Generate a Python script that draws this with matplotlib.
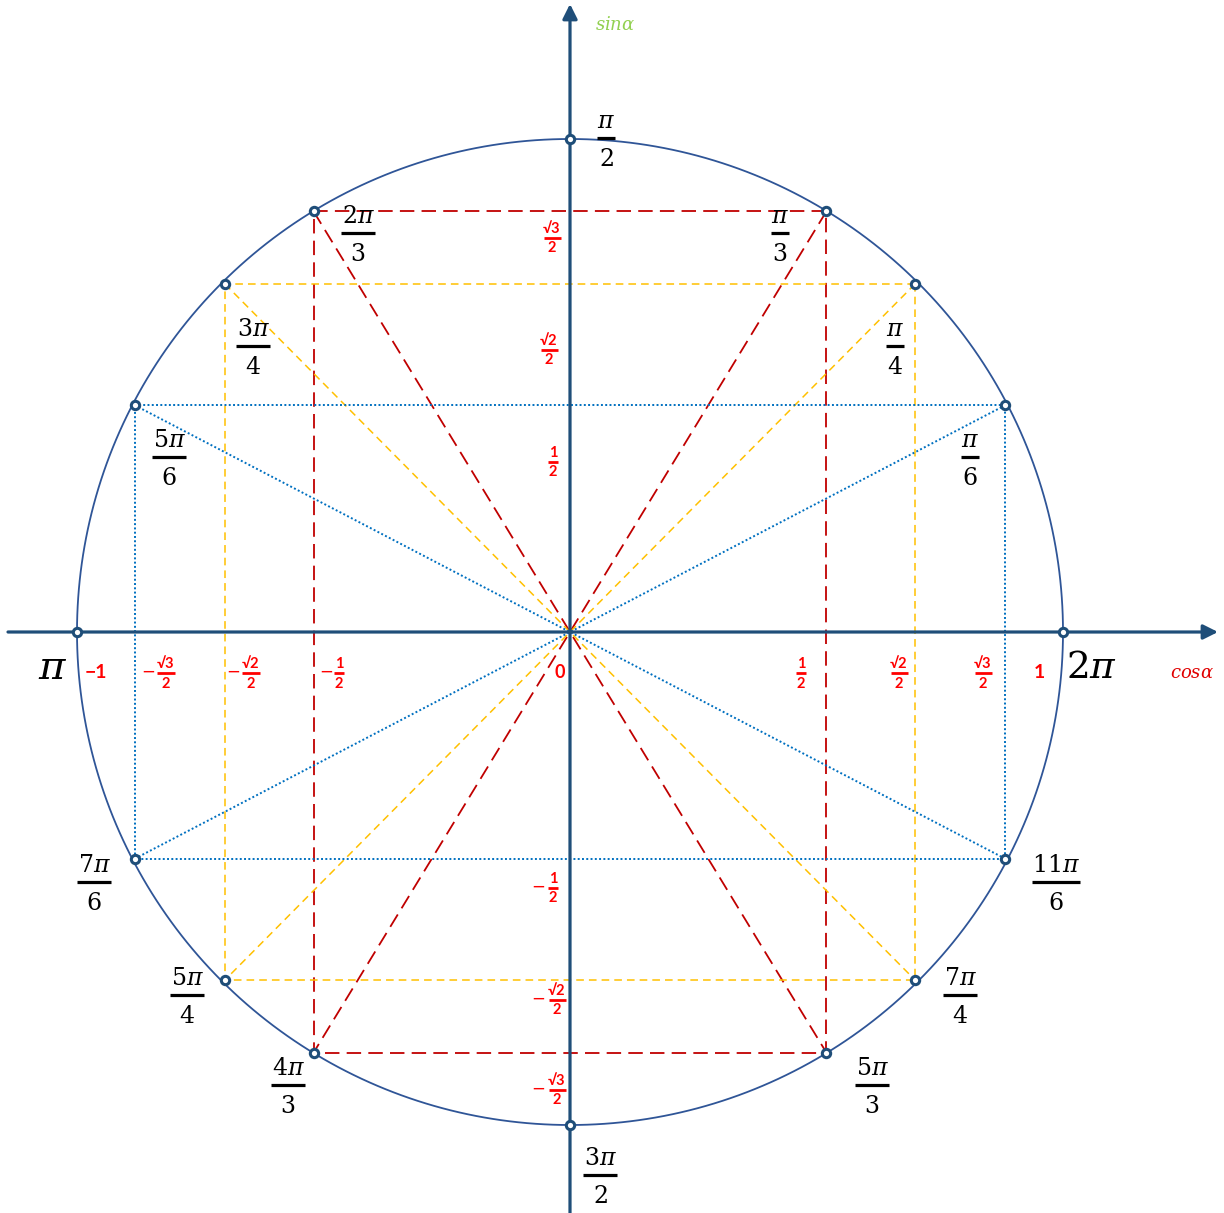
import numpy as np
import matplotlib.pyplot as plt

plt.rcParams['mathtext.fontset'] = 'dejavuserif'

# values (unit circle, radius 1)
cos_read = [0.52, 0.70, 0.883]     # "1/2", "√2/2", "√3/2" as drawn
sin_read = [0.46, 0.706, 0.853]

# points on the circle: which cos/sin value they use and the signs
pts_names = ["π/6", "π/4", "π/3", "2π/3", "3π/4", "5π/6",
             "7π/6", "5π/4", "4π/3", "5π/3", "7π/4", "11π/6"]
pts_cx = [2, 1, 0, 0, 1, 2, 2, 1, 0, 0, 1, 2]
pts_sy = [0, 1, 2, 2, 1, 0, 0, 1, 2, 2, 1, 0]
pts_sgx = [1, 1, 1, -1, -1, -1, -1, -1, -1, 1, 1, 1]
pts_sgy = [1, 1, 1, 1, 1, 1, -1, -1, -1, -1, -1, -1]
axis_pts_x = [1, 0, -1, 0]
axis_pts_y = [0, 1, 0, -1]

R = 493.0
CX, CY = 570.0, 632.0
W, H = 1224, 1213


def P(xp, yp):
    return (xp - CX) / R, (CY - yp) / R


fig = plt.figure(figsize=(W / 100, H / 100), dpi=100)
ax = fig.add_axes([0, 0, 1, 1])
ax.set_xlim(-CX / R, (W - CX) / R)
ax.set_ylim(-(H - CY) / R, CY / R)
ax.set_aspect('equal')
ax.axis('off')

circ_col = '#2F5597'
axis_col = '#1F4E79'

t = np.linspace(0, 2 * np.pi, 721)
ax.plot(np.cos(t), np.sin(t), color=circ_col, lw=1.3, zorder=3)

styles = [dict(color='#C00000', lw=1.3, ls=(0, (8, 4))),
          dict(color='#FFC000', lw=1.1, ls=(0, (5, 3.3))),
          dict(color='#0070C0', lw=1.4, ls=(0, (1, 1.2)))]

px = np.array([cos_read[i] * s for i, s in zip(pts_cx, pts_sgx)])
py = np.array([sin_read[i] * s for i, s in zip(pts_sy, pts_sgy)])

for g in range(3):
    idx = [k for k in range(12) if pts_cx[k] == g]
    q = sorted(idx, key=lambda k: (np.arctan2(py[k], px[k]) % (2 * np.pi)))
    xs = [px[k] for k in q] + [px[q[0]]]
    ys = [py[k] for k in q] + [py[q[0]]]
    ax.plot(xs, ys, zorder=2, **styles[g])
    ax.plot([px[q[0]], px[q[2]]], [py[q[0]], py[q[2]]], zorder=2, **styles[g])
    ax.plot([px[q[1]], px[q[3]]], [py[q[1]], py[q[3]]], zorder=2, **styles[g])

# axes with arrows
x0, _ = P(8, 0)
x1, _ = P(1218, 0)
_, y0 = P(0, 1213)
_, y1 = P(0, 4)
ax.annotate('', xy=(x1, 0), xytext=(x0, 0),
            arrowprops=dict(arrowstyle='-|>', lw=2.3, color=axis_col,
                            mutation_scale=22, shrinkA=0, shrinkB=0), zorder=4)
ax.annotate('', xy=(0, y1), xytext=(0, y0),
            arrowprops=dict(arrowstyle='-|>', lw=2.3, color=axis_col,
                            mutation_scale=22, shrinkA=0, shrinkB=0), zorder=4)

ax.plot(np.concatenate([px, axis_pts_x]), np.concatenate([py, axis_pts_y]),
        'o', ms=6, mfc='white', mec=axis_col, mew=2.2, zorder=5)


def frac(xp, yp, num, den, size, color, w, lw, dn, dd, **kw):
    x, y = P(xp, yp)
    ax.plot([x - w / 2 / R, x + w / 2 / R], [y, y], color=color, lw=lw,
            solid_capstyle='butt', zorder=6)
    ax.text(x, y + dn / R, num, ha='center', va='center', fontsize=size,
            color=color, zorder=6, **kw)
    ax.text(x, y - dd / R, den, ha='center', va='center', fontsize=size,
            color=color, zorder=6, **kw)


# angle labels
big = [("$\\pi$", "$2$", 606, 138, 18),
       ("$\\pi$", "$3$", 780, 233, 18),
       ("$2\\pi$", "$3$", 358, 233, 34),
       ("$\\pi$", "$4$", 895, 346, 18),
       ("$3\\pi$", "$4$", 253, 346, 34),
       ("$\\pi$", "$6$", 970, 457, 18),
       ("$5\\pi$", "$6$", 169, 457, 34),
       ("$7\\pi$", "$6$", 94, 882, 34),
       ("$11\\pi$", "$6$", 1056, 882, 48),
       ("$5\\pi$", "$4$", 187, 995, 34),
       ("$7\\pi$", "$4$", 960, 995, 34),
       ("$4\\pi$", "$3$", 288, 1085, 34),
       ("$5\\pi$", "$3$", 872, 1085, 34),
       ("$3\\pi$", "$2$", 600, 1175, 34)]
for num, den, xp, yp, w in big:
    frac(xp, yp, num, den, 17, 'black', w, 2.3, 17, 21)

ax.text(*P(53, 668), "$\\pi$", fontsize=29, ha='center', va='center')
ax.text(*P(1092, 668), "$2\\pi$", fontsize=27, ha='center', va='center')

# red value labels
red = '#FF0000'
rkw = dict(family=['Lato', 'DejaVu Sans'], fontweight='bold')
small = [("√3", "2", 552, 238, 17, None),
         ("√2", "2", 549, 350, 17, None),
         ("1", "2", 553, 462, 10, None),
         ("1", "2", 553, 888, 10, 538),
         ("√2", "2", 557, 1000, 17, 538),
         ("√3", "2", 557, 1090, 17, 538),
         ("1", "2", 801, 673, 10, None),
         ("√2", "2", 899, 673, 17, None),
         ("√3", "2", 983, 673, 17, None),
         ("√3", "2", 166, 673, 17, 148),
         ("√2", "2", 251, 673, 17, 233),
         ("1", "2", 339, 673, 10, 326)]
for num, den, xp, yp, w, mx in small:
    frac(xp, yp, num, den, 10.5, red, w, 2.0, 9, 10.5, **rkw)
    if mx is not None:
        ax.text(*P(mx, yp - 1), "−", fontsize=12, color=red, ha='center',
                va='center', family='DejaVu Sans')

ax.text(*P(1039, 673), "1", fontsize=14, color=red, ha='center', va='center', **rkw)
ax.text(*P(96, 673), "−1", fontsize=14, color=red, ha='center', va='center', **rkw)
ax.text(*P(560, 673), "0", fontsize=13, color=red, ha='center', va='center', **rkw)

ax.text(*P(615, 25), "$sin\\alpha$", fontsize=13, color='#92D050',
        ha='center', va='center')
ax.text(*P(1192, 673), "$cos\\alpha$", fontsize=13, color='#E00000',
        ha='center', va='center')

fig.savefig('out.png', dpi=100)
